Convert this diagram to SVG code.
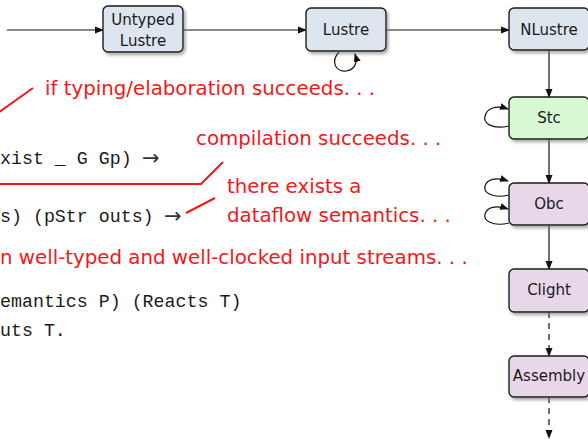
<svg xmlns="http://www.w3.org/2000/svg" width="588" height="439" viewBox="0 0 588 439">
<defs>
  <filter id="sh" x="-20%" y="-20%" width="140%" height="150%">
    <feDropShadow dx="2" dy="2.5" stdDeviation="1.5" flood-color="#777" flood-opacity="0.6"/>
  </filter>
  <marker id="ar" markerWidth="10" markerHeight="10" refX="8" refY="5" orient="auto" markerUnits="userSpaceOnUse">
    <path d="M0,1.5 L9,5 L0,8.5 Z" fill="#111"/>
  </marker>
</defs>
<style>
  .box{stroke:#1a1a1a;stroke-width:1.4;filter:url(#sh)}
  .blue{fill:#dde5ef}
  .green{fill:#d8f8d2}
  .purple{fill:#e8d7e9}
  .lbl{font-family:"DejaVu Sans",sans-serif;font-size:15px;fill:#1a1a1a;text-anchor:middle}
  .edge{stroke:#111;stroke-width:1.2;fill:none;marker-end:url(#ar)}
  .dash{stroke-dasharray:6,5}
  .red{font-family:"DejaVu Sans",sans-serif;font-size:19.8px;fill:#f21818}
  .rl{stroke:#f21818;stroke-width:2;fill:none}
  .mono{font-family:"Liberation Mono",monospace;font-size:18.3px;fill:#1a1a1a}
  .arr{font-family:"DejaVu Sans",sans-serif;font-size:21px;fill:#333}
</style>

<g id="connectors">
  <path class="edge" d="M7,30 L103,30"/>
  <path class="edge" d="M183,30 L306,30"/>
  <path class="edge" d="M386,30 L509,30"/>
  <path class="edge" d="M339,52 C330,62 336,72 346,71 C354,70 358,64 355,54"/>
  <path class="edge" d="M549,50 L549,97"/>
  <path class="edge" d="M509,126 C492,130 483,123 485,116 C487,108 496,105 508,109"/>
  <path class="edge" d="M549,139 L549,183"/>
  <path class="edge" d="M509,195 C492,199 483,192 485,186 C487,179 496,177 508,181"/>
  <path class="edge" d="M509,223 C492,227 483,220 485,214 C487,207 496,205 508,209"/>
  <path class="edge" d="M549,225 L549,269"/>
  <path class="edge dash" d="M549,312 L549,356"/>
  <path class="edge dash" d="M549,397 L549,438"/>
</g>

<g id="untyped-lustre">
  <rect class="box blue" x="103" y="6" width="80" height="46" rx="5"/>
  <text class="lbl" x="143" y="25">Untyped</text>
  <text class="lbl" x="143" y="46">Lustre</text>
</g>
<g id="lustre">
  <rect class="box blue" x="306" y="8" width="80" height="43" rx="5"/>
  <text class="lbl" x="346" y="35">Lustre</text>
</g>
<g id="nlustre">
  <rect class="box blue" x="509" y="8" width="80" height="42" rx="5"/>
  <text class="lbl" x="549" y="35">NLustre</text>
</g>
<g id="stc">
  <rect class="box green" x="509" y="97" width="80" height="42" rx="5"/>
  <text class="lbl" x="549" y="123">Stc</text>
</g>
<g id="obc">
  <rect class="box purple" x="509" y="183" width="80" height="42" rx="5"/>
  <text class="lbl" x="549" y="209">Obc</text>
</g>
<g id="clight">
  <rect class="box purple" x="509" y="269" width="80" height="43" rx="5"/>
  <text class="lbl" x="549" y="295">Clight</text>
</g>
<g id="assembly">
  <rect class="box purple" x="509" y="356" width="80" height="41" rx="5"/>
  <text class="lbl" x="549" y="381">Assembly</text>
</g>

<g id="theorem">
  <text class="mono" x="0" y="164">xist _ G Gp)</text>
  <text class="arr" x="142" y="165">→</text>
  <text class="mono" x="0" y="222">s) (pStr outs)</text>
  <text class="arr" x="164" y="223">→</text>
  <text class="mono" x="0" y="307">emantics P) (Reacts T)</text>
  <text class="mono" x="0" y="336">uts T.</text>
</g>

<g id="annotations">
  <path class="rl" d="M33,88 L-2,113"/>
  <text class="red" x="45" y="95">if typing/elaboration succeeds. . .</text>
  <path class="rl" d="M-2,184 L201,184 L223,162"/>
  <text class="red" x="196" y="145">compilation succeeds. . .</text>
  <path class="rl" d="M186,213 L215,198"/>
  <text class="red" x="227" y="193">there exists a</text>
  <text class="red" x="227" y="222">dataflow semantics. . .</text>
  <text class="red" x="0" y="264">n well-typed and well-clocked input streams. . .</text>
</g>
</svg>
